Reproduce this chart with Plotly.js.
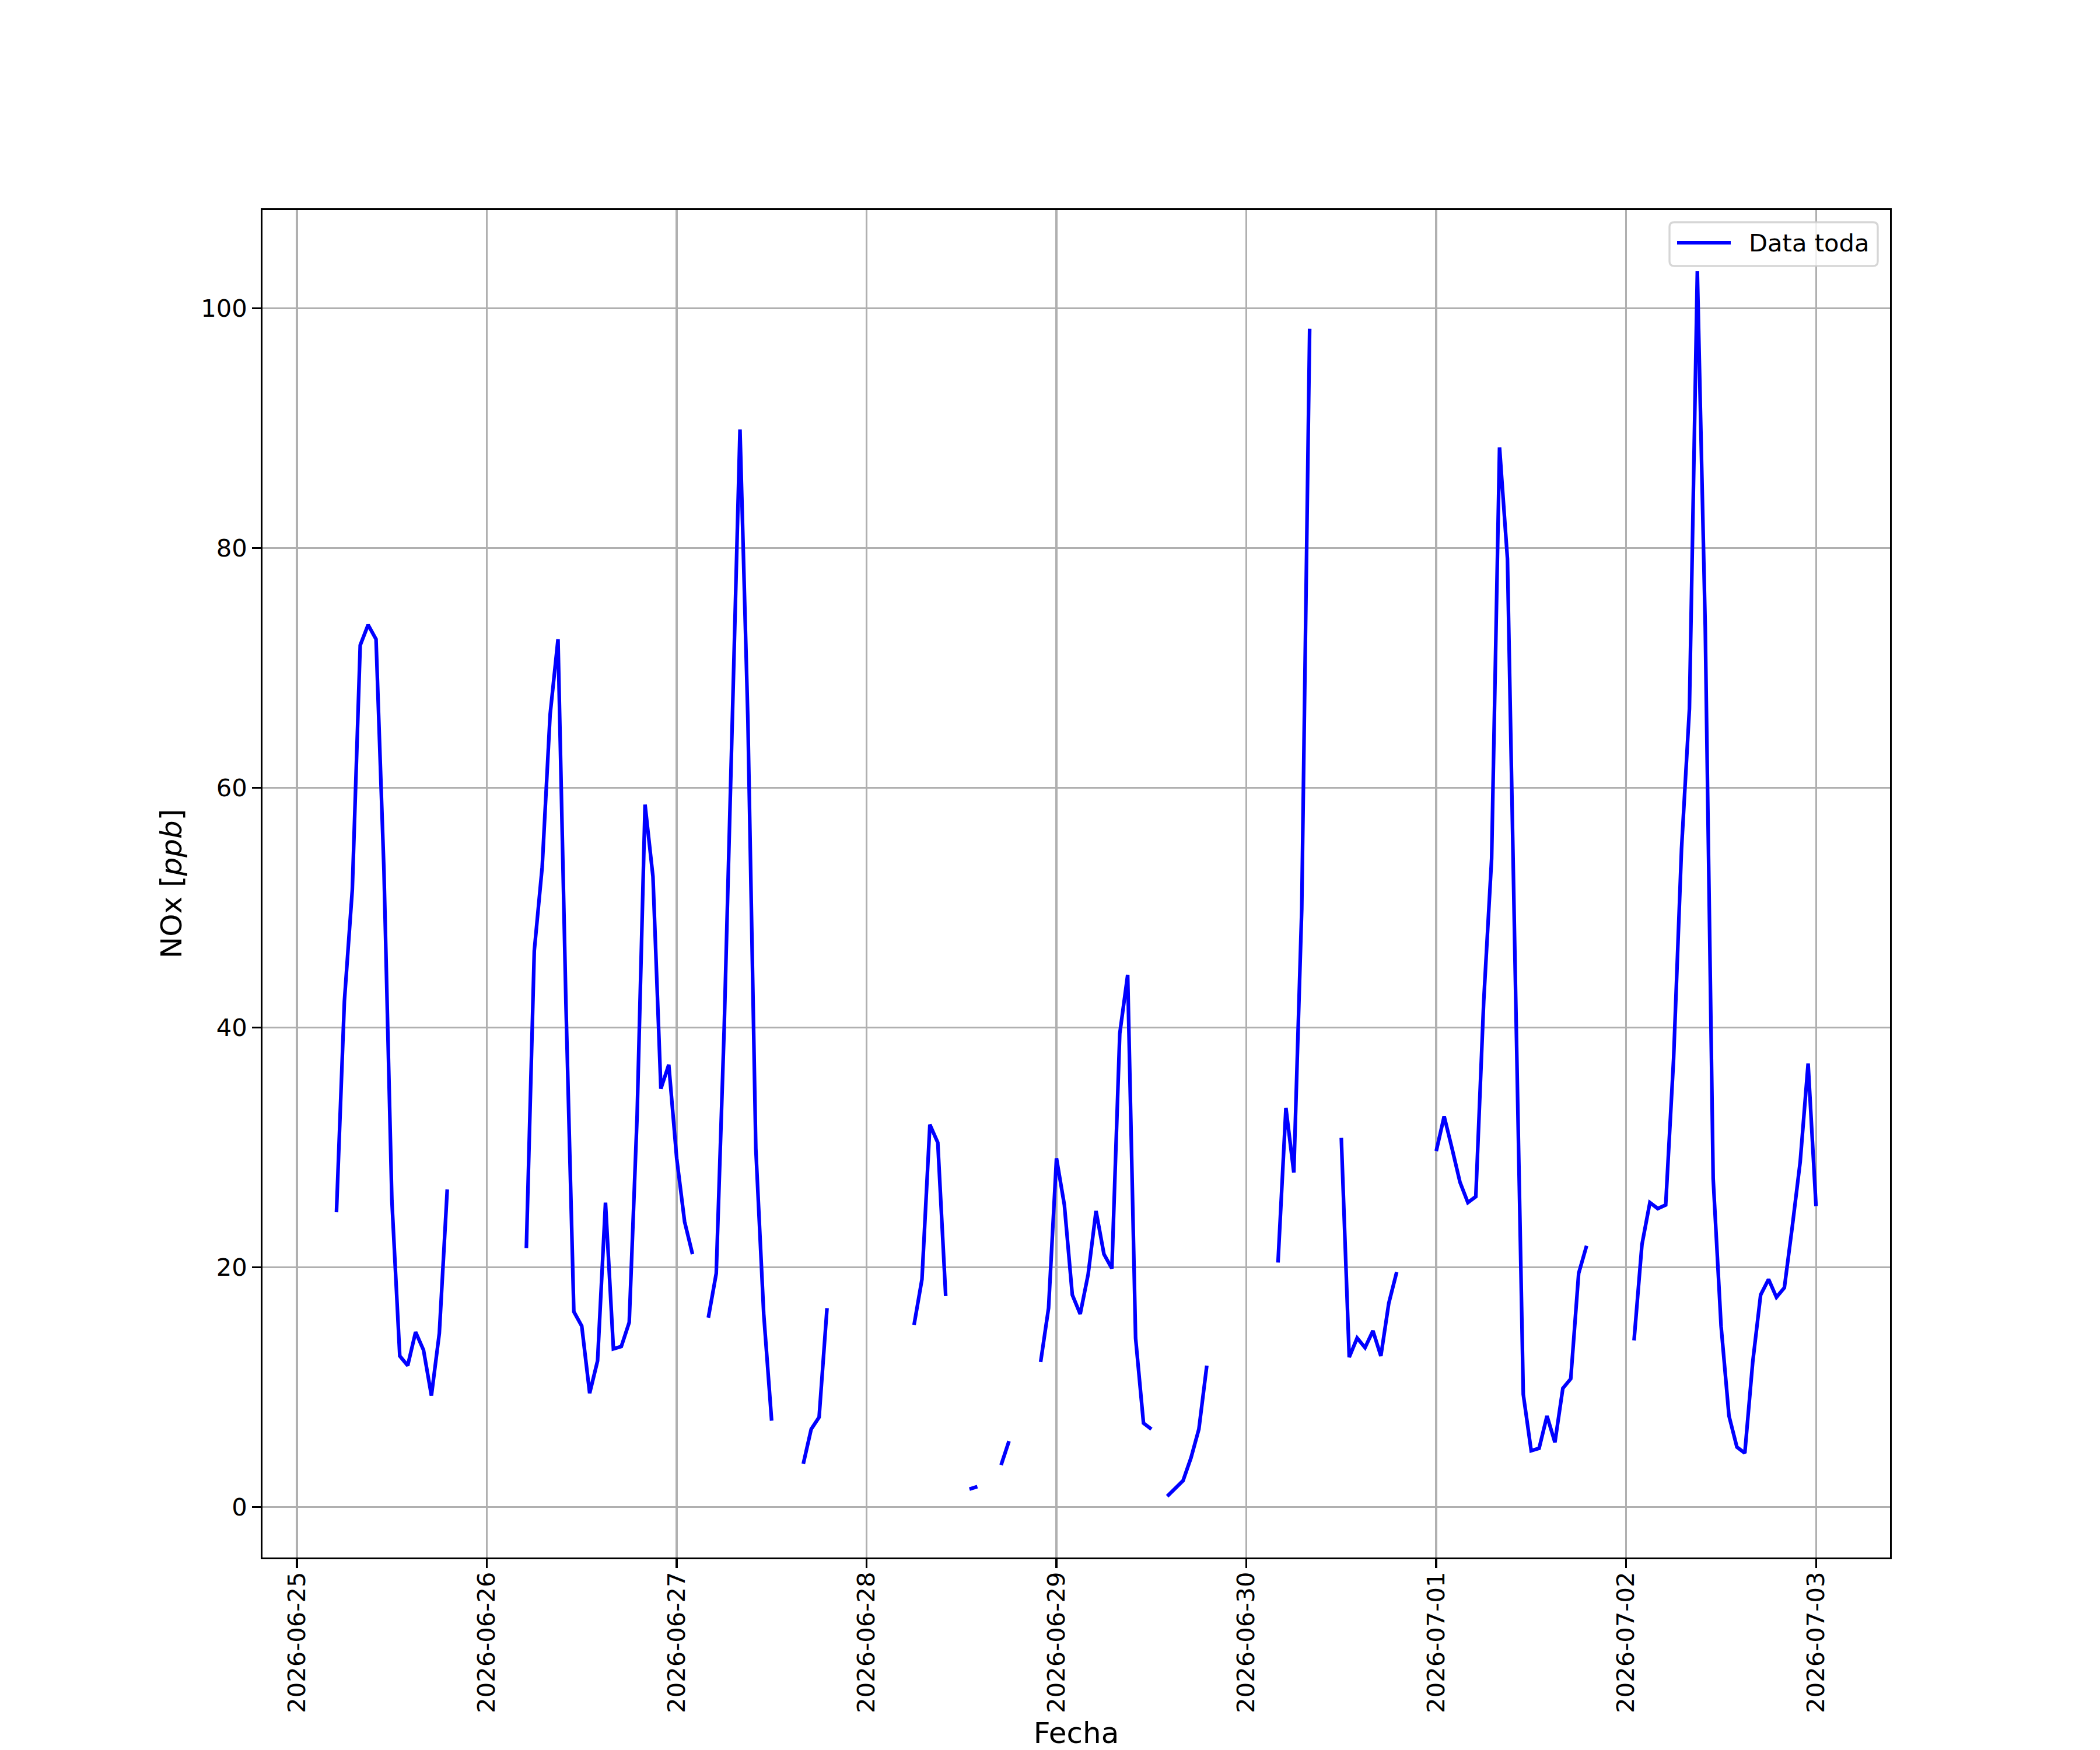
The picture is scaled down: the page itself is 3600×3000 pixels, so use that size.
<!DOCTYPE html>
<html>
<head>
<meta charset="utf-8">
<script src="https://cdn.plot.ly/plotly-3.0.1.min.js"></script>
<style>
  html, body { margin: 0; padding: 0; background: #ffffff; }
  #chart { width: 3600px; height: 3000px; }
</style>
</head>
<body>
<div id="chart"></div>
<script>
// ---- Data (hourly NOx [ppb], null = missing) ----
const days = ['2026-06-25', '2026-06-26', '2026-06-27', '2026-06-28', '2026-06-29',
              '2026-06-30', '2026-07-01', '2026-07-02', '2026-07-03'];

const d0625 = [null, null, null, null, null, 24.6, 42.2, 51.5, 71.9, 73.6, 72.4, 53.1,
               25.6, 12.6, 11.8, 14.6, 13.1, 9.3, 14.5, 26.5, null, null, null, null];
const d0626 = [null, null, null, null, null, 21.6, 46.4, 53.4, 66.1, 72.4, 42.0, 16.3,
               15.1, 9.5, 12.2, 25.4, 13.2, 13.4, 15.4, 32.7, 58.6, 52.6, 34.9, 36.9];
const d0627 = [29.1, 23.8, 21.1, null, 15.8, 19.5, 39.9, 65.2, 89.9, 65.6, 29.9, 16.1,
               7.2, null, null, null, 3.6, 6.5, 7.5, 16.6, null, null, null, null];
const d0628 = [null, null, null, null, null, null, 15.2, 19.0, 31.9, 30.4, 17.6, null,
               null, 1.5, 1.7, null, null, 3.5, 5.5, null, null, null, 12.1, 16.6];
const d0629 = [29.1, 25.2, 17.7, 16.1, 19.4, 24.7, 21.1, 19.9, 39.5, 44.4, 14.1, 7.0,
               6.5, null, 0.9, 1.5, 2.2, 4.1, 6.5, 11.8, null, null, null, null];
const d0630 = [null, null, null, null, 20.4, 33.3, 27.9, 49.9, 98.3, null, null, null,
               30.8, 12.5, 14.1, 13.3, 14.7, 12.6, 17.0, 19.6, null, null, null, null];
const d0701 = [29.7, 32.6, 29.9, 27.1, 25.4, 25.9, 42.2, 54.1, 88.4, 79.1, 44.0, 9.4,
               4.7, 4.9, 7.6, 5.4, 9.9, 10.7, 19.5, 21.8, null, null, null, null];
const d0702 = [null, 13.9, 21.9, 25.4, 24.9, 25.2, 37.4, 54.9, 66.6, 103.1, 73.4, 27.4,
               15.1, 7.6, 5.0, 4.5, 12.1, 17.7, 19.0, 17.5, 18.3, 23.4, 28.8, 37.0];
const d0703 = [25.1];

const dailyValues = [d0625, d0626, d0627, d0628, d0629, d0630, d0701, d0702, d0703];

const seriesName = 'Data toda';
const xTitle = 'Fecha';
const yTitle = 'NOx [<i>ppb</i>]';
const xRange = ['2026-06-24 19:39', '2026-07-03 09:21'];
const yRange = [-4.21, 108.21];

// ---- Build time series ----
const xs = [], ys = [];
dailyValues.forEach((vals, i) => {
  vals.forEach((v, h) => {
    xs.push(days[i] + ' ' + String(h).padStart(2, '0') + ':00');
    ys.push(v);
  });
});

// ---- Geometry (px) ----
const W = 3600, H = 3000;
const L = 450, R = 3240, T = 360, B = 2670;
const PW = R - L, PH = B - T;
const fs = 41.67;
const fsLabel = 50;
const lw = 3.33;
const px2x = p => (p - L) / PW;
const px2y = p => (B - p) / PH;

// custom legend (matplotlib style, upper right)
const lgL = 2862, lgR = 3219, lgT = 381, lgB = 456, rad = 8;
function roundedRectPath(l, t, r, b, rr) {
  const pts = [
    ['M', l + rr, t], ['L', r - rr, t], ['Q', r, t, r, t + rr], ['L', r, b - rr],
    ['Q', r, b, r - rr, b], ['L', l + rr, b], ['Q', l, b, l, b - rr], ['L', l, t + rr],
    ['Q', l, t, l + rr, t]
  ];
  return pts.map(p => {
    const c = p[0];
    const nums = p.slice(1);
    const out = [];
    for (let k = 0; k < nums.length; k += 2) {
      out.push(px2x(nums[k]).toFixed(6) + ',' + px2y(nums[k + 1]).toFixed(6));
    }
    return c + out.join(' ');
  }).join(' ') + ' Z';
}

const trace = {
  x: xs,
  y: ys,
  type: 'scatter',
  mode: 'lines',
  name: seriesName,
  connectgaps: false,
  line: { color: '#0000ff', width: 6.25 },
  showlegend: false,
  hoverinfo: 'skip'
};

const font = { family: 'DejaVu Sans', size: fs, color: '#000000' };
const labelFont = { family: 'DejaVu Sans', size: fsLabel, color: '#000000' };

const layout = {
  width: W,
  height: H,
  paper_bgcolor: '#ffffff',
  plot_bgcolor: '#ffffff',
  margin: { l: L, r: W - R, t: T, b: H - B, pad: 0, autoexpand: false },
  font: font,
  showlegend: false,
  xaxis: {
    type: 'date',
    range: xRange,
    tick0: '2026-06-25',
    dtick: 86400000,
    tickformat: '%Y-%m-%d',
    tickangle: -90,
    ticks: 'outside',
    ticklen: 14.6,
    tickwidth: lw,
    tickcolor: '#000000',
    tickfont: font,
    ticklabelstandoff: -10,
    showgrid: true,
    gridcolor: '#b0b0b0',
    gridwidth: lw,
    zeroline: false,
    showline: true,
    mirror: true,
    linecolor: '#000000',
    linewidth: lw,
    automargin: false,
    title: { text: xTitle, font: labelFont, standoff: 28 }
  },
  yaxis: {
    range: yRange,
    tick0: 0,
    dtick: 20,
    ticks: 'outside',
    ticklen: 14.6,
    tickwidth: lw,
    tickcolor: '#000000',
    tickfont: font,
    showgrid: true,
    gridcolor: '#b0b0b0',
    gridwidth: lw,
    zeroline: false,
    showline: true,
    mirror: true,
    linecolor: '#000000',
    linewidth: lw,
    automargin: false,
    title: { text: yTitle, font: labelFont, standoff: 17 }
  },
  shapes: [
    {
      type: 'path', xref: 'paper', yref: 'paper',
      path: roundedRectPath(lgL, lgT, lgR, lgB, rad),
      fillcolor: 'rgba(255,255,255,0.8)',
      line: { color: 'rgba(204,204,204,0.8)', width: lw },
      layer: 'above'
    },
    {
      type: 'line', xref: 'paper', yref: 'paper',
      x0: px2x(2875), x1: px2x(2967), y0: px2y(416), y1: px2y(416),
      line: { color: '#0000ff', width: 6.25 },
      layer: 'above'
    }
  ],
  annotations: [
    {
      xref: 'paper', yref: 'paper',
      x: px2x(2996), y: px2y(416),
      xanchor: 'left', yanchor: 'middle',
      text: seriesName, showarrow: false,
      font: font
    }
  ]
};

Plotly.newPlot('chart', [trace], layout, { staticPlot: true, displayModeBar: false });
</script>
</body>
</html>
